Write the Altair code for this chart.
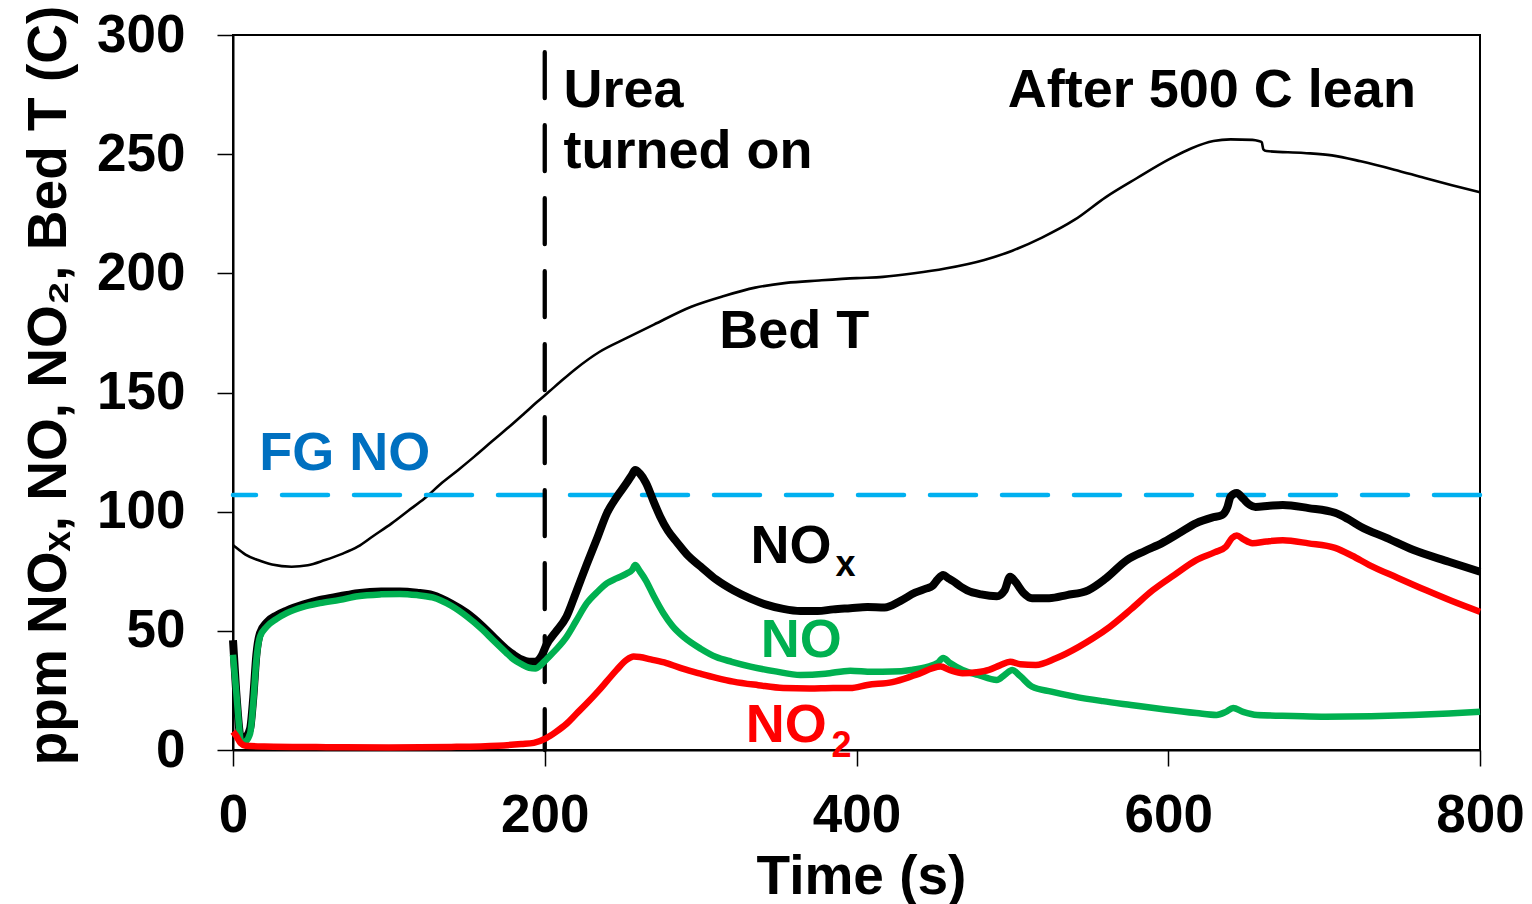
import altair as alt
import pandas as pd

# ---------------- data ----------------
bed_time = [0, 1.3, 8, 16, 25, 37.6, 48, 59, 70, 80, 90, 101.8, 112, 123, 133, 144.5, 155, 166, 177,
            187, 195, 203, 210, 220, 235, 253, 270, 294, 315, 335, 355, 376, 400, 417, 437, 457, 482,
            500, 519, 540, 560, 580, 601, 615, 629, 640, 654, 658, 660, 661, 663, 687, 705, 723.5,
            745, 764.6, 782, 800]
bed_temp = [86, 85.3, 82, 79.7, 77.8, 76.9, 77.5, 79.7, 82.3, 85.3, 89.8, 95.1, 100.2, 105.6, 111.5,
            117.5, 123.2, 129.4, 135.5, 141.3, 146, 150.5, 154.5, 160, 167, 173, 178.5, 186, 190.5,
            194, 196, 197, 198, 198.5, 200, 202, 205.6, 209.5, 215, 222.5, 232, 240, 248, 252.5,
            255.5, 256.2, 256, 255.5, 255, 252, 251.3, 250.5, 249.5, 247, 243.5, 240, 237, 234]

nox_time = [0, 2, 5.5, 8, 11, 13, 15, 17.3, 21.6, 28, 34.4, 45, 55.8, 68.6, 80, 95, 107, 118, 128,
            140, 150, 160, 167, 175, 180, 185, 190, 194, 198, 201, 207, 214, 220, 227, 234, 240, 246,
            252.5, 256, 258, 261, 265, 270, 274, 279, 285, 292, 300, 310, 321, 332, 342, 353, 364,
            375, 385, 396, 407, 418, 428, 437.6, 445, 448.6, 452, 455.6, 459, 462.6, 467, 471, 480,
            490, 495, 498.5, 502, 507, 512.6, 523.6, 535, 548.6, 560, 573.6, 585, 596, 607, 618, 628,
            634.6, 638, 640, 644, 648, 652, 656, 665, 673.5, 690, 707, 715, 723.5, 740, 757, 780, 800]
nox_ppm = [46, 25, 3.5, 5, 9, 22, 40, 49, 53.5, 56.5, 58.5, 61, 63, 64.5, 65.8, 66.5, 66.5, 66, 65,
           61.5, 57.5, 52, 47.5, 42.5, 40, 38, 37, 37, 39.5, 44, 49.5, 56, 66, 78, 89.5, 99.5, 106,
           112, 115.5, 117.5, 116, 112, 104, 98, 92, 87, 81.5, 77, 71.5, 67, 63.5, 61, 59.2, 58.3,
           58.3, 59, 59.5, 60, 59.8, 62.5, 66, 67.8, 68.8, 71.5, 73.4, 72, 70.6, 68.5, 67, 65.3,
           64.5, 67, 72.7, 70.5, 66, 63.7, 63.7, 65, 67, 72, 79.7, 83.5, 86.8, 91, 95.2, 97.5,
           98.6, 102, 106.3, 107.8, 105.5, 103, 102, 102.5, 102.8, 101.5, 99.5, 97, 93.7, 89, 84, 79, 74.8]

no_time = [0, 2, 5.5, 8, 11, 13, 15, 17.3, 21.6, 28, 34.4, 45, 55.8, 68.6, 80, 95, 107, 118, 128,
           140, 150, 160, 167, 175, 180, 185, 190, 194, 198, 201, 207, 214, 220, 227, 234, 240, 246,
           252.5, 256, 258, 261, 265, 270, 276, 282, 289, 300, 310, 320, 332, 348, 364, 380, 396,
           410, 423, 435, 446, 452, 455.6, 460, 468, 478, 490, 495, 500, 505, 512.6, 525, 540, 558,
           576, 598, 618, 631, 637, 641.6, 648, 657, 680, 701, 730, 757, 780, 800]
no_ppm = [40, 25, 2.8, 3.5, 7, 20, 37.8, 47.5, 51.7, 55, 57.4, 60, 61.6, 63, 64.5, 65.3, 65.5, 65, 64,
          60.5, 56, 50.5, 46, 41, 38, 36, 34.5, 34.2, 36, 38, 42, 47.5, 54, 61.6, 66.5, 70, 72,
          74, 75.5, 77.6, 75, 71, 64.5, 57.5, 52, 47.5, 42.5, 39, 37, 35, 33, 31.5, 32, 33.3,
          32.8, 32.9, 33.6, 35, 36.5, 38.6, 36.5, 33.6, 31.5, 29.4, 31.5, 33.6, 31, 26.6, 24.5,
          22.4, 20.5, 18.9, 17, 15.5, 14.7, 16, 17.6, 16, 14.7, 14.3, 14, 14.2, 14.7, 15.3, 16]

no2_time = [0, 2, 5, 8, 20, 60, 100, 140, 170, 185, 193, 201, 207, 214, 220, 227, 234, 240, 246,
            252.5, 257, 261, 268, 278, 289, 300, 310, 321, 337, 353, 370, 385, 396, 407, 423, 438,
            454, 460, 468, 477, 485, 492, 498.5, 505, 515, 528, 542.6, 552, 562.5, 576, 590, 604,
            618, 630, 637, 641, 644, 648, 654, 663, 673.5, 690, 707, 718, 729, 747, 765.5, 782, 800]
no2_ppm = [7.7, 6, 2.8, 1.8, 1.5, 1.2, 1.1, 1.3, 1.8, 2.5, 3, 5, 7.5, 11, 15, 19.6, 24.5, 29, 33.5,
           37.8, 39.2, 39, 38, 36.5, 34, 32, 30.3, 28.7, 27.2, 26, 25.8, 26, 26, 27.3, 28.5, 31.5,
           35, 33.5, 32.2, 32.6, 33.6, 35.5, 37, 36, 35.7, 38.5, 43.3, 47, 51.7, 59, 67, 73.5,
           79.7, 83, 85.3, 89, 90, 88.5, 86.8, 87.5, 88, 86.7, 84.8, 81.5, 77.6, 72.3, 67, 62.5, 58]

fg_no_ppm = [107]
urea_time = [200]
urea_span = [292.8, 0]

x_ticks = [0, 200, 400, 600, 800]
y_ticks = [0, 50, 100, 150, 200, 250, 300]

# annotation texts and their anchor points (data units)
ann_text = ["Urea", "turned on", "After 500 C lean", "Bed T"]
ann_t = [212, 212, 497, 312]
ann_v = [270, 244.1, 270, 168.7]

fg_text = ["FG NO"]
fg_t = [16.8]
fg_v = [117.5]

lbl_text = ["NO", "NO", "NO"]
lbl_t = [332, 338.6, 329]
lbl_v = [78.3, 39.2, 3.5]
lbl_color = ["#000000", "#00B050", "#FF0000"]

sub_text = ["x", "2"]
sub_t = [386.5, 384]
sub_v = [73.0, -2.8]
sub_color = ["#000000", "#FF0000"]

# ---------------- chart ----------------
FONT = "Liberation Sans, Arial, sans-serif"

xscale = alt.Scale(domain=[0, 800], nice=False, zero=False)
yscale = alt.Scale(domain=[0, 300], nice=False)

xaxis = alt.Axis(values=x_ticks, title="Time (s)", labelPadding=23, titleX=628, titleY=143,
                 titleBaseline="alphabetic", titleAlign="center")
yaxis = alt.Axis(values=y_ticks, title="ppm NOₓ, NO, NO₂, Bed T (C)", labelPadding=32,
                 titleX=-168, titleY=350, titleAngle=270, titleBaseline="alphabetic",
                 titleAlign="center")

X = alt.X("t:Q", scale=xscale, axis=xaxis)
Y = alt.Y("v:Q", scale=yscale, axis=yaxis)

bed_df = pd.DataFrame({"t": bed_time, "v": bed_temp})
nox_df = pd.DataFrame({"t": nox_time, "v": nox_ppm})
no_df = pd.DataFrame({"t": no_time, "v": no_ppm})
no2_df = pd.DataFrame({"t": no2_time, "v": no2_ppm})

bed = alt.Chart(bed_df).mark_line(color="#000000", strokeWidth=2.6, interpolate="monotone").encode(x=X, y=Y)
nox = alt.Chart(nox_df).mark_line(color="#000000", strokeWidth=8, strokeJoin="round",
                                  interpolate="monotone").encode(x=X, y=Y)
no = alt.Chart(no_df).mark_line(color="#00B050", strokeWidth=6.5, strokeJoin="round",
                                interpolate="monotone").encode(x=X, y=Y)
no2 = alt.Chart(no2_df).mark_line(color="#FF0000", strokeWidth=6.5, strokeJoin="round",
                                  interpolate="monotone").encode(x=X, y=Y)

fg = alt.Chart(pd.DataFrame({"v": fg_no_ppm})).mark_rule(
    color="#00B0F0", strokeWidth=4.5, strokeDash=[46, 26], strokeCap="round"
).encode(y=Y)

urea = alt.Chart(pd.DataFrame({"t": urea_time, "v": [urea_span[0]], "v2": [urea_span[1]]})).mark_rule(
    color="#000000", strokeWidth=4.3, strokeDash=[46, 27], strokeCap="round"
).encode(x=X, y=Y, y2="v2:Q")

ann = alt.Chart(pd.DataFrame({"t": ann_t, "v": ann_v, "txt": ann_text})).mark_text(
    align="left", baseline="alphabetic", font=FONT, fontSize=54, fontWeight="bold", color="#000000"
).encode(x=X, y=Y, text="txt:N")

fgt = alt.Chart(pd.DataFrame({"t": fg_t, "v": fg_v, "txt": fg_text})).mark_text(
    align="left", baseline="alphabetic", font=FONT, fontSize=54, fontWeight="bold", color="#0070C0"
).encode(x=X, y=Y, text="txt:N")

lbl = alt.Chart(pd.DataFrame({"t": lbl_t, "v": lbl_v, "txt": lbl_text, "c": lbl_color})).mark_text(
    align="left", baseline="alphabetic", font=FONT, fontSize=54, fontWeight="bold"
).encode(x=X, y=Y, text="txt:N", color=alt.Color("c:N", scale=None))

sub = alt.Chart(pd.DataFrame({"t": sub_t, "v": sub_v, "txt": sub_text, "c": sub_color})).mark_text(
    align="left", baseline="alphabetic", font=FONT, fontSize=36, fontWeight="bold"
).encode(x=X, y=Y, text="txt:N", color=alt.Color("c:N", scale=None))

chart = alt.layer(bed, fg, urea, nox, no, no2, ann, fgt, lbl, sub).properties(
    width=1247, height=715,
    autosize=alt.AutoSizeParams(type="none"),
    padding={"left": 233, "top": 35, "right": 52, "bottom": 154},
    background="white",
).configure_view(
    stroke="#000000", strokeWidth=2
).configure_axis(
    grid=False,
    labelFont=FONT, labelFontSize=53, labelFontWeight="bold", labelColor="#000000",
    titleFont=FONT, titleFontSize=55, titleFontWeight="bold", titleColor="#000000",
    domainColor="#000000", domainWidth=2, tickColor="#000000", tickWidth=1.5, tickSize=16,
    labelFlush=False, labelOverlap=False,
)

chart.save("out.html", embed_options={"renderer": "svg", "actions": False})
